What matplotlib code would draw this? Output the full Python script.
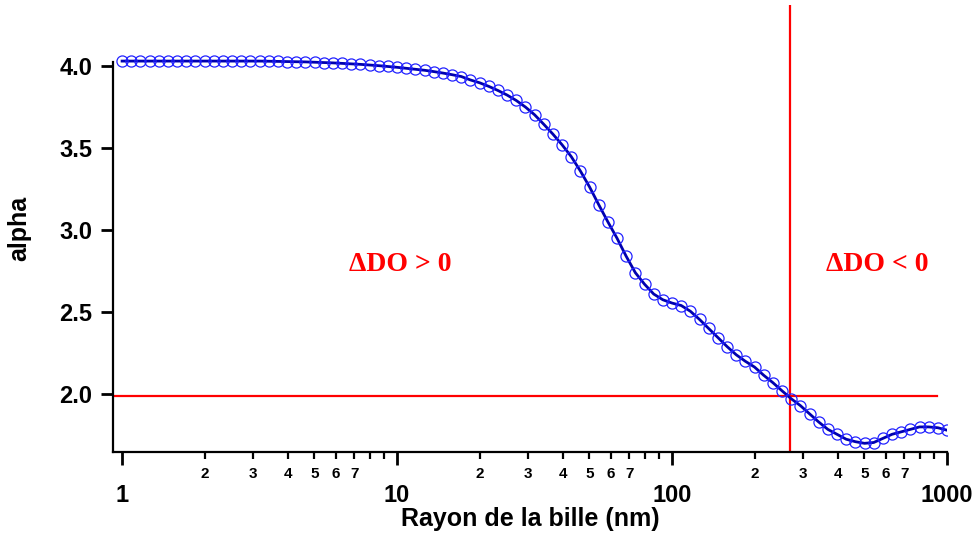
import matplotlib
matplotlib.use('Agg')
import matplotlib.pyplot as plt

# rayon de la bille (nm) et alpha
rayon = [1.000, 1.080, 1.166, 1.259, 1.359, 1.468, 1.585, 1.711, 1.848, 1.995,
         2.154, 2.326, 2.512, 2.712, 2.929, 3.162, 3.415, 3.687, 3.981, 4.299,
         4.642, 5.012, 5.412, 5.843, 6.310, 6.813, 7.356, 7.943, 8.577, 9.261,
         10.00, 10.80, 11.66, 12.59, 13.59, 14.68, 15.85, 17.11, 18.48, 19.95,
         21.54, 23.26, 25.12, 27.12, 29.29, 31.62, 34.15, 36.87, 39.81, 42.99,
         46.42, 50.12, 54.12, 58.43, 63.10, 68.13, 73.56, 79.43, 85.77, 92.61,
         100.0, 108.0, 116.6, 125.9, 135.9, 146.8, 158.5, 171.1, 184.8, 199.5,
         215.4, 232.6, 251.2, 271.2, 292.9, 316.2, 341.5, 368.7, 398.1, 429.9,
         464.2, 501.2, 541.2, 584.4, 631.0, 681.3, 735.6, 794.3, 857.7, 926.1,
         1000.0]
alpha = [4.030, 4.030, 4.030, 4.030, 4.030, 4.030, 4.030, 4.030, 4.030, 4.030,
         4.030, 4.030, 4.030, 4.030, 4.030, 4.030, 4.029, 4.028, 4.027, 4.026,
         4.025, 4.023, 4.021, 4.019, 4.016, 4.013, 4.010, 4.006, 4.002, 3.997,
         3.992, 3.986, 3.980, 3.974, 3.966, 3.957, 3.947, 3.936, 3.915, 3.898,
         3.876, 3.851, 3.823, 3.790, 3.750, 3.703, 3.645, 3.585, 3.520, 3.448,
         3.360, 3.263, 3.155, 3.050, 2.950, 2.840, 2.740, 2.670, 2.610, 2.575,
         2.555, 2.540, 2.505, 2.455, 2.400, 2.345, 2.290, 2.240, 2.200, 2.165,
         2.115, 2.070, 2.020, 1.972, 1.930, 1.880, 1.830, 1.785, 1.755, 1.725,
         1.710, 1.700, 1.705, 1.730, 1.755, 1.770, 1.785, 1.800, 1.800, 1.795,
         1.780]

alpha_seuil = 1.99
rayon_seuil = 269

yticks = [2.0, 2.5, 3.0, 3.5, 4.0]
xticks_major = [1, 10, 100, 1000]
minor_subs = [2, 3, 4, 5, 6, 7, 8, 9]
minor_labels = ['2', '3', '4', '5', '6', '7', '', '']

plt.rcParams['font.family'] = ['Liberation Sans', 'DejaVu Sans']
plt.rcParams['font.weight'] = 'bold'

fig = plt.figure(figsize=(9.76, 5.35), dpi=100)
ax = fig.add_axes([0.1158, 0.1551, 0.8545, 0.8356])

ax.plot(rayon, alpha, '-', color='#0000b0', lw=2.0, zorder=3)
ax.plot(rayon, alpha, 'o', mfc='none', mec='#2222ff', ms=8, mew=0.9, zorder=4)

ax.axvline(rayon_seuil, color='#ff0000', lw=1.6, zorder=2)
ax.axhline(alpha_seuil, xmax=0.988, color='#ff0000', lw=1.6, zorder=2)

ax.set_xscale('log')
ax.set_xlim(0.927, 1000)
ax.set_ylim(1.647, 4.372)

for s in ['top', 'right']:
    ax.spines[s].set_visible(False)
for s in ['left', 'bottom']:
    ax.spines[s].set_linewidth(1.6)
ax.spines['left'].set_bounds(1.647, 4.025)

ax.set_yticks(yticks)
ax.set_yticklabels(['%.1f' % v for v in yticks], fontsize=17, fontweight='bold')
ax.tick_params(axis='y', length=9, width=2, pad=6)

ax.set_xticks(xticks_major)
ax.set_xticklabels([str(v) for v in xticks_major], fontsize=17, fontweight='bold')
minor = []
labs = []
for dec in [1, 10, 100]:
    for s, l in zip(minor_subs, minor_labels):
        minor.append(s * dec)
        labs.append(l)
ax.set_xticks(minor, minor=True)
ax.set_xticklabels(labs, minor=True, fontsize=11, fontweight='bold')
ax.tick_params(axis='x', which='major', length=9, width=2, pad=14)
ax.tick_params(axis='x', which='minor', length=5, width=1.6, pad=6)

ax.set_xlabel('Rayon de la bille (nm)', fontsize=18, fontweight='bold', labelpad=0)
ax.set_ylabel('alpha', fontsize=18, fontweight='bold', labelpad=20)

ax.text(10.25, 2.79, 'ΔDO > 0', color='#ff0000', fontsize=20,
        family=['Liberation Serif', 'DejaVu Serif'], fontweight='bold',
        ha='center', va='center')
ax.text(556, 2.79, 'ΔDO < 0', color='#ff0000', fontsize=20,
        family=['Liberation Serif', 'DejaVu Serif'], fontweight='bold',
        ha='center', va='center')

fig.savefig('out.png', dpi=100)
